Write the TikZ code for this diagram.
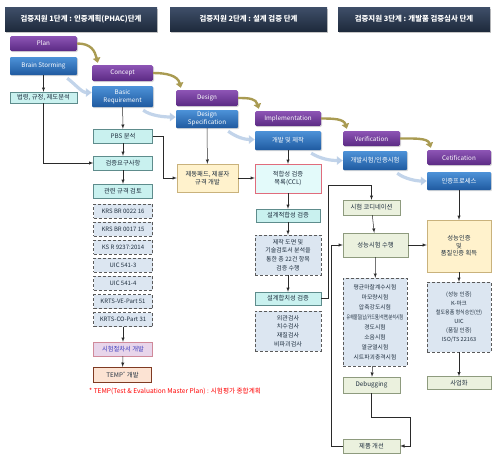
\documentclass[tikz,border=0pt]{standalone}
\usepackage{fontspec}
\setmainfont{Noto Sans CJK KR}
\usepackage{tikz}
\usetikzlibrary{arrows.meta,shadows}
\definecolor{navytop}{HTML}{3F4F69}
\definecolor{navybot}{HTML}{1E2A3C}
\definecolor{purtop}{HTML}{8D55B5}
\definecolor{purbot}{HTML}{5B2A84}
\definecolor{blutop}{HTML}{4D92D8}
\definecolor{blubot}{HTML}{1F5AA0}
\definecolor{mintfill}{HTML}{C9F1EF}
\definecolor{mintline}{HTML}{5E8C8C}
\definecolor{stdfill}{HTML}{DCE6F1}
\definecolor{stdline}{HTML}{5A5A5A}
\definecolor{procfill}{HTML}{E8D5EA}
\definecolor{procline}{HTML}{D08A9A}
\definecolor{proctext}{HTML}{3F3FBF}
\definecolor{tempfill}{HTML}{FCE3D3}
\definecolor{templine}{HTML}{7F3A22}
\definecolor{yelfill}{HTML}{FFF2CC}
\definecolor{yelline}{HTML}{C9B27C}
\definecolor{cclfill}{HTML}{E3FAFA}
\definecolor{cclline}{HTML}{E06C7C}
\definecolor{grnfill}{HTML}{EBF1DE}
\definecolor{grnline}{HTML}{8E9B7E}
\definecolor{goldarr}{HTML}{A99B52}
\definecolor{softblue}{HTML}{B7CCE6}
\definecolor{linecol}{HTML}{2A2A2A}
\definecolor{textdark}{HTML}{1F2F3F}
\newcommand\boxfont{\fontsize{6.3}{7.6}\selectfont}
\newcommand\listfont{\fontsize{6}{8.6}\selectfont}
\tikzstyle{header}=[text=white,top color=navytop,bottom color=navybot,minimum height=24,inner sep=0,
                    font=\bfseries\fontsize{7.4}{9}\selectfont,
                    drop shadow={opacity=0.45,shadow xshift=1.2pt,shadow yshift=-1.5pt}]
\tikzstyle{phase}=[text=white,top color=purtop,bottom color=purbot,rounded corners=1.5,inner sep=0,
                   font=\boxfont,drop shadow={opacity=0.3,shadow xshift=1pt,shadow yshift=-1pt}]
\tikzstyle{task}=[text=white,top color=blutop,bottom color=blubot,rounded corners=1,inner sep=0,
                  font=\boxfont,align=center,drop shadow={opacity=0.3,shadow xshift=1pt,shadow yshift=-1pt}]
\tikzstyle{mint}=[draw=mintline,fill=mintfill,inner sep=0,font=\boxfont,text=textdark]
\tikzstyle{std}=[draw=stdline,densely dashed,fill=stdfill,inner sep=0,font=\listfont,align=center,text=textdark]
\tikzstyle{procbox}=[draw=procline,fill=procfill,inner sep=0,font=\boxfont,text=proctext]
\tikzstyle{tempbox}=[draw=templine,line width=1.2pt,fill=tempfill,inner sep=0,font=\boxfont,text=textdark]
\tikzstyle{yelbox}=[draw=yelline,fill=yelfill,inner sep=0,font=\boxfont,align=center,text=textdark]
\tikzstyle{cclbox}=[draw=cclline,fill=cclfill,inner sep=0,font=\boxfont,align=center,text=textdark]
\tikzstyle{grnbox}=[draw=grnline,fill=grnfill,inner sep=0,font=\boxfont,text=textdark]
\tikzstyle{note}=[text=red,font=\fontsize{6.6}{7.5}\selectfont,inner sep=0]
\tikzstyle{link}=[->,linecol,line width=0.5pt]
\tikzstyle{flow}=[goldarr,line width=2.4pt,-{Triangle[length=5pt,width=7.5pt]}]
\tikzstyle{soft}=[softblue,line width=3.2pt,opacity=0.85,-{Triangle[length=6pt,width=8.5pt]}]
\tikzset{>=latex}

\begin{document}
\begin{tikzpicture}[x=1pt,y=-1pt]
\useasboundingbox (0,0) rectangle (492,456);

% Stage headers
\node[header,minimum width=152] (h1) at (81,19) {검증지원 1단계 : 인증계획(PHAC)단계};
\node[header,minimum width=157] (h2) at (248.5,19) {검증지원 2단계 : 설계 검증 단계};
\node[header,minimum width=152] (h3) at (414,19) {검증지원 3단계 : 개발품 검증심사 단계};

% Plan
\node[phase,minimum width=67,minimum height=15] (plan) at (43.5,43.5) {Plan};
\node[task,minimum width=67,minimum height=18] (brain) at (43.5,66) {Brain Storming};
\node[mint,minimum width=67,minimum height=11] (law) at (43.5,97.5) {법령, 규정, 제도분석};

% Concept
\node[phase,minimum width=61,minimum height=16] (concept) at (122.5,73) {Concept};
\node[task,minimum width=61,minimum height=21] (basicreq) at (122.5,96.5) {Basic\\Requirement};
\node[mint,minimum width=59,minimum height=14] (pbs) at (123,136) {PBS 분석};
\node[mint,minimum width=59,minimum height=14] (req) at (123,163) {검증요구사항};
\node[mint,minimum width=59,minimum height=14] (review) at (123,191) {관련 규격 검토};

% Related standards
\node[std,minimum width=59,minimum height=14] (std1) at (123,211) {KRS BR 0022 16};
\node[std,minimum width=59,minimum height=14] (std2) at (123,229.1) {KRS BR 0017 15};
\node[std,minimum width=59,minimum height=14] (std3) at (123,247.2) {KS R 9237:2014};
\node[std,minimum width=59,minimum height=14] (std4) at (123,265.3) {UIC 541-3};
\node[std,minimum width=59,minimum height=14] (std5) at (123,283.4) {UIC 541-4};
\node[std,minimum width=59,minimum height=14] (std6) at (123,301.5) {KRTS-VE-Part 51};
\node[std,minimum width=59,minimum height=14] (std7) at (123,319.6) {KRTS-CO-Part 31};

% Test procedure and TEMP
\node[procbox,minimum width=59,minimum height=14] (proc) at (123,349) {시험절차서 개발};
\node[tempbox,minimum width=58,minimum height=15] (temp) at (122.5,375) {TEMP\textsuperscript{*} 개발};
\node[note,anchor=west] (note) at (89,391) {* TEMP(Test \& Evaluation Master Plan) : 시험평가 종합계획};

% Design
\node[phase,minimum width=62,minimum height=16] (design) at (207,98) {Design};
\node[task,minimum width=62,minimum height=18] (dspec) at (207,119) {Design\\Specification};
\node[yelbox,minimum width=61,minimum height=28] (brake) at (207.5,178) {제동패드, 제륜자\\규격 개발};

% Implementation
\node[phase,minimum width=66,minimum height=15] (impl) at (288,118.5) {Implementation};
\node[task,minimum width=66,minimum height=19] (make) at (288,140.5) {개발 및 제작};
\node[cclbox,minimum width=66,minimum height=29] (ccl) at (288,178.5) {적합성 검증\\목록(CCL)};
\node[mint,minimum width=64,minimum height=13] (dcheck) at (288,215.5) {설계적합성 검증};
\node[std,minimum width=66,minimum height=40] (dlist) at (288,255) {제작 도면 및\\기술검토서 분석을\\통한 총 22건 항목\\검증 수행};
\node[mint,minimum width=66,minimum height=13] (conf) at (288,298.5) {설계합치성 검증};
\node[std,minimum width=66,minimum height=40] (ilist) at (288,331) {외관검사\\치수검사\\재질검사\\비파괴검사};

% Verification
\node[phase,minimum width=57,minimum height=15] (verif) at (371.5,138.5) {Verification};
\node[task,minimum width=64,minimum height=19] (test) at (375,160.5) {개발시험/인증시험};
\node[grnbox,minimum width=57,minimum height=15] (coord) at (371.5,207.5) {시험 코디네이션};
\node[grnbox,minimum width=65,minimum height=24] (perf) at (375.5,245) {성능시험 수행};
\node[std,minimum width=64,minimum height=88,font=\fontsize{5.8}{10}\selectfont] (tlist) at (375,322) {평균마찰계수시험\\마모량시험\\압축강도시험\\\scalebox{0.68}[1]{유해물질(납/카드뮴/석면)분석시험}\\경도시험\\소음시험\\열균열시험\\시트파괴충격시험};
\node[grnbox,minimum width=57,minimum height=16] (debug) at (371.5,385) {Debugging};
\node[grnbox,minimum width=57,minimum height=14] (improve) at (371.5,446) {제품 개선};

% Certification
\node[phase,minimum width=64,minimum height=15] (cert) at (459,157.5) {Cetification};
\node[task,minimum width=64,minimum height=18] (cproc) at (459,181) {인증프로세스};
\node[yelbox,minimum width=64,minimum height=52] (acq) at (459,246) {성능인증\\및\\품질인증 획득};
\node[std,minimum width=64,minimum height=70,font=\fontsize{5.6}{9}\selectfont] (clist) at (459,317) {(성능 인증)\\K-마크\\\scalebox{0.9}[1]{철도용품 형식승인(안)}\\UIC\\(품질 인증)\\ISO/TS 22163};
\node[grnbox,minimum width=64,minimum height=13] (biz) at (459,383) {사업화};

% Stage flow arrows
\draw[flow] (plan.east) .. controls +(14,0) and +(-3,-12) .. ([xshift=6pt,yshift=2pt]concept.north west);
\draw[flow] (concept.east) .. controls +(14,0) and +(-3,-12) .. ([xshift=5pt,yshift=2pt]design.north west);
\draw[flow] (design.east) .. controls +(12,0) and +(-3,-10) .. ([xshift=4pt,yshift=2pt]impl.north west);
\draw[flow] (impl.east) .. controls +(12,0) and +(-3,-10) .. ([xshift=4pt,yshift=2pt]verif.north west);
\draw[flow] (verif.east) .. controls +(13,0) and +(-3,-10) .. ([xshift=4pt,yshift=2pt]cert.north west);

% Task hand-over arrows
\draw[soft] ([xshift=-10pt,yshift=-3pt]brain.south east) .. controls +(8,6) and +(-10,0) .. ([yshift=4pt]basicreq.west);
\draw[soft] ([xshift=-10pt,yshift=-3pt]basicreq.south east) .. controls +(8,6) and +(-10,0) .. ([yshift=2pt]dspec.west);
\draw[soft] ([xshift=-10pt,yshift=-3pt]dspec.south east) .. controls +(8,6) and +(-10,0) .. ([yshift=1pt]make.west);
\draw[soft] ([xshift=-10pt,yshift=-3pt]make.south east) .. controls +(10,6) and +(-12,0) .. (test.west);
\draw[soft] ([xshift=-10pt,yshift=-3pt]test.south east) .. controls +(8,6) and +(-10,0) .. (cproc.west);

% Phase 1 links
\draw[link] (brain) -- (law);
\draw[link] (law.south) |- (req.west);
\draw[link] (basicreq) -- (pbs);
\draw[link] (pbs) -- (req);
\draw[link] (req) -- (review);
\draw[link] (std7) -- (proc);
\draw[link] (proc) -- (temp);
\draw[link] (pbs.east) -- ++(11,0) |- (brake.west);

% Phase 2 links
\draw[link] (dspec) -- (brake);
\draw[link] (brake.east) -- (brake.east -| ccl.west);
\draw[link] (make) -- (ccl);
\draw[link] (ccl) -- (dcheck);
\draw[link] (dcheck) -- (dlist);
\draw[link] (dlist) -- (conf);
\coordinate (cturn) at (328,185);
\draw[link] (conf.east) -| (cturn) -| (coord.north);

% Phase 3 links
\draw[link] (coord) -- (perf);
\draw[link] (perf.east) -- (perf.east -| acq.west);
\draw[link] (perf) -- (tlist);
\draw[link] (tlist) -- (debug);
\coordinate (dturn) at (410,417);
\draw[link] (debug.south) |- (dturn) |- (improve.east);
\coordinate (fturn) at (331,446);
\draw[link] (improve.west) -- (fturn) |- (perf.west);
\draw[link] (cproc) -- (acq);
\draw[link] (acq) -- (clist);
\draw[link] (clist) -- (biz);

\end{tikzpicture}
\end{document}
